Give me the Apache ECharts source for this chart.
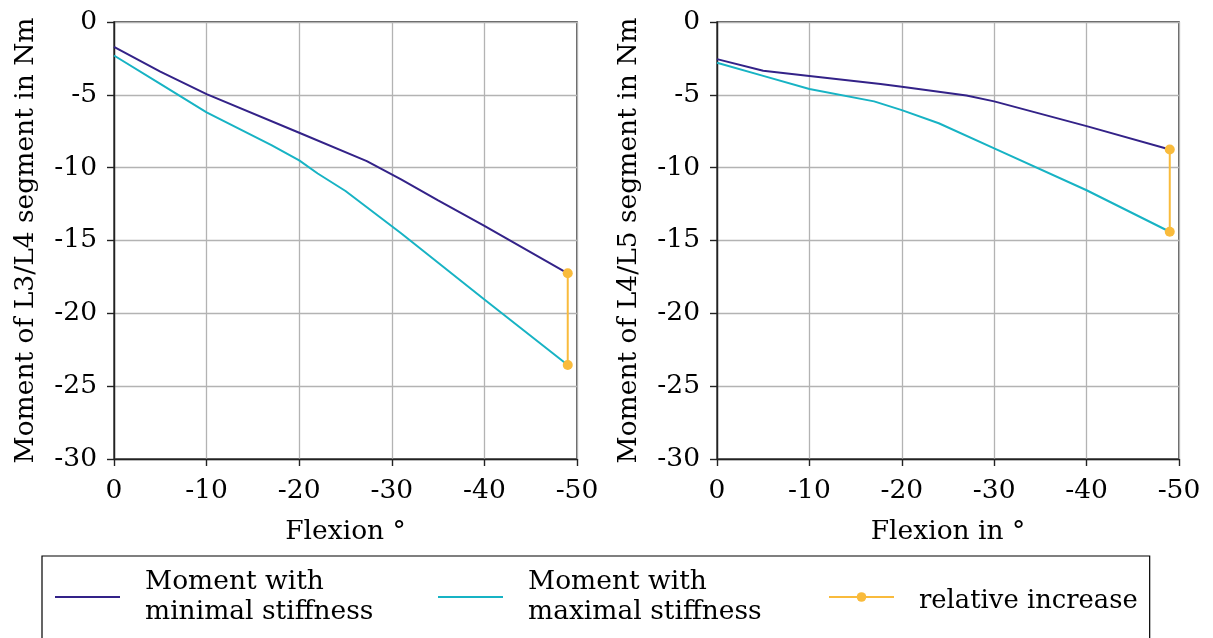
<!DOCTYPE html>
<html>
<head>
<meta charset="utf-8">
<script src="https://cdn.jsdelivr.net/npm/echarts@6/dist/echarts.min.js"></script>
<style>
  html, body { margin: 0; padding: 0; background: #fff; }
  #chart { width: 1213px; height: 638px; }
</style>
</head>
<body>
<div id="chart"></div>
<script>
// Flexion angles (degrees) and segment moments (Nm)
const flexL3Min = [0, -5, -10, -20, -27.3, -31, -35, -40, -49];
const momentL3Min = [-1.7, -3.4, -4.95, -7.6, -9.55, -10.8, -12.25, -14.0, -17.25];
const flexL3Max = [0, -5, -10, -17, -20, -22, -25, -31, -40, -49];
const momentL3Max = [-2.3, -4.25, -6.2, -8.45, -9.5, -10.4, -11.6, -14.5, -19.05, -23.55];

const flexL4Min = [0, -5, -10, -17.7, -20, -27, -30, -40, -49];
const momentL4Min = [-2.55, -3.35, -3.7, -4.26, -4.45, -5.05, -5.45, -7.15, -8.75];
const flexL4Max = [0, -5, -10, -17, -20, -24, -30, -40, -49];
const momentL4Max = [-2.8, -3.7, -4.6, -5.45, -6.05, -6.95, -8.68, -11.55, -14.4];

const seriesNames = ['Moment with\nminimal stiffness', 'Moment with\nmaximal stiffness', 'relative increase'];
const yTitles = ['Moment of L3/L4 segment in Nm', 'Moment of L4/L5 segment in Nm'];
const xTitles = ['Flexion °', 'Flexion in °'];

const colors = ['#332288', '#17b3c4', '#f9bb3c'];
const FONT = 'DejaVu Serif';
const FS = 26.5;
// plain horizontal stroke used as the legend key of the two moment curves
const LINE_ICON = 'path://M0,0L65,0L65,1.9L0,1.9Z';

function pairs(xs, ys) { return xs.map((x, i) => [x, ys[i]]); }
function last(a) { return a[a.length - 1]; }

const grids = [
  { left: 114, top: 22, width: 463, height: 437 },
  { left: 717, top: 22, width: 462, height: 437 }
];

function xAxis(i) {
  return {
    gridIndex: i, type: 'value', min: -50, max: 0, interval: 10, inverse: true,
    name: xTitles[i], nameLocation: 'middle', nameGap: 60,
    nameTextStyle: { fontFamily: FONT, fontSize: FS, color: '#000' },
    axisLine: { show: true, onZero: false, lineStyle: { color: '#222', width: 1.4 } },
    axisTick: { show: true, inside: false, length: 7, lineStyle: { color: '#222', width: 1.4 } },
    axisLabel: { fontFamily: FONT, fontSize: FS, color: '#000', margin: 19,
      formatter: v => String(v) },
    splitLine: { show: true, lineStyle: { color: '#b3b3b3', width: 1.3 } }
  };
}
function yAxis(i) {
  return {
    gridIndex: i, type: 'value', min: -30, max: 0, interval: 5,
    name: yTitles[i], nameLocation: 'middle', nameGap: 74, nameRotate: 90,
    nameTextStyle: { fontFamily: FONT, fontSize: FS, color: '#000' },
    axisLine: { show: true, onZero: false, lineStyle: { color: '#222', width: 1.4 } },
    axisTick: { show: true, inside: false, length: 7, lineStyle: { color: '#222', width: 1.4 } },
    axisLabel: { fontFamily: FONT, fontSize: FS, color: '#000', margin: 17 },
    splitLine: { show: true, lineStyle: { color: '#b3b3b3', width: 1.3 } }
  };
}

function lineSeries(nameIdx, gi, data) {
  return {
    name: seriesNames[nameIdx], type: 'line', xAxisIndex: gi, yAxisIndex: gi,
    data: data, symbol: 'none', smooth: false, animation: false,
    lineStyle: { color: colors[nameIdx], width: 2 },
    itemStyle: { color: colors[nameIdx] }, z: 3
  };
}
function increaseSeries(gi, x, a, b) {
  return {
    name: seriesNames[2], type: 'line', xAxisIndex: gi, yAxisIndex: gi,
    data: [[x, a], [x, b]], symbol: 'circle', symbolSize: 10, showSymbol: true,
    animation: false,
    lineStyle: { color: colors[2], width: 2 },
    itemStyle: { color: colors[2] }, z: 4
  };
}

const option = {
  animation: false,
  grid: grids.map(g => Object.assign({ show: true, borderColor: '#222', borderWidth: 1.4, backgroundColor: 'transparent' }, g)),
  xAxis: [xAxis(0), xAxis(1)],
  yAxis: [yAxis(0), yAxis(1)],
  legend: {
    left: 42, top: 556, orient: 'horizontal',
    itemWidth: 65, itemHeight: 12, itemGap: 0,
    padding: [11, 12, 20, 13],
    borderColor: '#000', borderWidth: 1.2, borderRadius: 0,
    // the single-line entry sits a little lower than the icon line
    formatter: name => name === seriesNames[2] ? '{low|' + name + '}' : name,
    textStyle: {
      fontFamily: FONT, fontSize: FS, lineHeight: 30, color: '#000', padding: [0, 0, 0, 20],
      rich: { low: { fontFamily: FONT, fontSize: 25.8, color: '#000', padding: [9, 0, 0, 0] } }
    },
    data: [
      { name: seriesNames[0], icon: LINE_ICON, textStyle: { width: 293 } },
      { name: seriesNames[1], icon: LINE_ICON, textStyle: { width: 300 } },
      { name: seriesNames[2] }
    ]
  },
  series: [
    lineSeries(0, 0, pairs(flexL3Min, momentL3Min)),
    lineSeries(1, 0, pairs(flexL3Max, momentL3Max)),
    increaseSeries(0, last(flexL3Min), last(momentL3Min), last(momentL3Max)),
    lineSeries(0, 1, pairs(flexL4Min, momentL4Min)),
    lineSeries(1, 1, pairs(flexL4Max, momentL4Max)),
    increaseSeries(1, last(flexL4Min), last(momentL4Min), last(momentL4Max))
  ]
};

const chart = echarts.init(document.getElementById('chart'), null, { renderer: 'canvas' });
chart.setOption(option);
</script>
</body>
</html>
